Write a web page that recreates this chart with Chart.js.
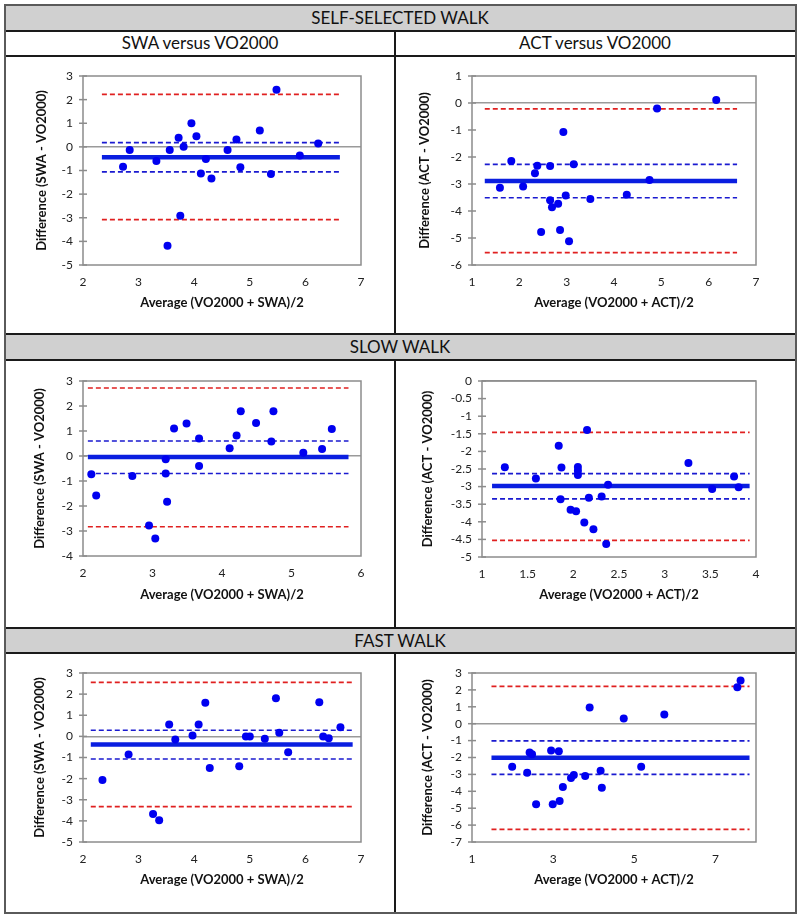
<!DOCTYPE html>
<html>
<head>
<meta charset="utf-8">
<script src="https://cdn.jsdelivr.net/npm/chart.js@4.4.0/dist/chart.umd.min.js"></script>
<style>
  body { margin: 0; background: #fff; }
  #page { position: relative; width: 800px; height: 916px; font-family: Lato, "Open Sans", sans-serif; color: #111; }
  .abs { position: absolute; }
  .band { background: #d0d0d0; }
  .hl { background: #1a1a1a; height: 1.5px; }
  .vl { background: #1a1a1a; width: 1.5px; }
  .txt { text-align: center; font-size: 17px; }
  canvas { position: absolute; }
</style>
</head>
<body>
<div id="page">
  <!-- section bands -->
  <div class="abs band" style="left:5px;top:5px;width:790px;height:25px"></div>
  <div class="abs band" style="left:5px;top:334px;width:790px;height:25px"></div>
  <div class="abs band" style="left:5px;top:628px;width:790px;height:25px"></div>

  <div class="abs txt" style="left:5px;top:5px;width:790px;line-height:25px">SELF-SELECTED WALK</div>
  <div class="abs txt" style="left:5px;top:30px;width:390px;line-height:25px">SWA versus VO2000</div>
  <div class="abs txt" style="left:395px;top:30px;width:400px;line-height:25px">ACT versus VO2000</div>
  <div class="abs txt" style="left:5px;top:334px;width:790px;line-height:25px">SLOW WALK</div>
  <div class="abs txt" style="left:5px;top:628px;width:790px;line-height:25px">FAST WALK</div>

  <!-- table rules -->
  <div class="abs hl" style="left:5px;top:30px;width:790px"></div>
  <div class="abs hl" style="left:5px;top:55px;width:790px"></div>
  <div class="abs hl" style="left:5px;top:333px;width:790px"></div>
  <div class="abs hl" style="left:5px;top:359px;width:790px"></div>
  <div class="abs hl" style="left:5px;top:627px;width:790px"></div>
  <div class="abs hl" style="left:5px;top:652px;width:790px"></div>
  <div class="abs vl" style="left:394px;top:30px;height:304px"></div>
  <div class="abs vl" style="left:394px;top:359px;height:269px"></div>
  <div class="abs vl" style="left:394px;top:652px;height:260px"></div>
  <div class="abs" style="left:4px;top:4px;width:789px;height:906px;border:2px solid #5a5a5a"></div>

  <canvas id="c1" width="388" height="276" style="left:6px;top:56px"></canvas>
  <canvas id="c2" width="398" height="276" style="left:396px;top:56px"></canvas>
  <canvas id="c3" width="388" height="265" style="left:6px;top:361px"></canvas>
  <canvas id="c4" width="398" height="265" style="left:396px;top:361px"></canvas>
  <canvas id="c5" width="388" height="257" style="left:6px;top:654px"></canvas>
  <canvas id="c6" width="398" height="257" style="left:396px;top:654px"></canvas>
</div>

<script>
// ---- data ----
// self-selected walk, SWA
const swaSelfX = [2.72, 2.84, 3.32, 3.52, 3.56, 3.72, 3.75, 3.81, 3.95, 4.04, 4.12, 4.21, 4.31, 4.60, 4.76, 4.83, 5.18, 5.38, 5.48, 5.90, 6.23];
const swaSelfY = [-0.84, -0.13, -0.60, -4.18, -0.13, 0.39, -2.92, 0.01, 1.00, 0.45, -1.13, -0.51, -1.34, -0.13, 0.31, -0.86, 0.69, -1.15, 2.42, -0.37, 0.14];
const swaSelfBias = -0.44, swaSelfCI = [0.18, -1.06], swaSelfLoA = [2.22, -3.08], swaSelfSpan = [2.34, 6.62];
// self-selected walk, ACT
const actSelfX = [1.59, 1.83, 2.08, 2.33, 2.38, 2.46, 2.65, 2.65, 2.69, 2.82, 2.86, 2.93, 2.98, 3.05, 3.15, 3.50, 4.27, 4.75, 4.91, 6.16];
const actSelfY = [-3.14, -2.15, -3.09, -2.60, -2.32, -4.78, -2.33, -3.60, -3.86, -3.73, -4.70, -1.07, -3.43, -5.12, -2.27, -3.56, -3.40, -2.85, -0.20, 0.11];
const actSelfBias = -2.89, actSelfCI = [-2.27, -3.51], actSelfLoA = [-0.22, -5.54], actSelfSpan = [1.27, 6.60];
// slow walk, SWA
const swaSlowX = [2.12, 2.19, 2.71, 2.95, 3.04, 3.19, 3.19, 3.21, 3.31, 3.49, 3.67, 3.67, 4.11, 4.21, 4.27, 4.49, 4.71, 4.74, 5.17, 5.44, 5.58];
const swaSlowY = [-0.73, -1.58, -0.80, -2.78, -3.30, -0.13, -0.70, -1.83, 1.10, 1.30, 0.70, -0.40, 0.31, 0.82, 1.79, 1.32, 0.58, 1.79, 0.13, 0.28, 1.08];
const swaSlowBias = -0.04, swaSlowCI = [0.60, -0.70], swaSlowLoA = [2.72, -2.83], swaSlowSpan = [2.07, 5.82];
// slow walk, ACT
const actSlowX = [1.25, 1.59, 1.84, 1.86, 1.87, 1.97, 2.03, 2.05, 2.05, 2.05, 2.12, 2.15, 2.17, 2.22, 2.31, 2.36, 2.38, 3.26, 3.52, 3.76, 3.81];
const actSlowY = [-2.45, -2.77, -1.84, -3.36, -2.46, -3.66, -3.70, -2.44, -2.55, -2.67, -4.02, -1.39, -3.32, -4.21, -3.28, -4.63, -2.95, -2.33, -3.07, -2.71, -3.02];
const actSlowBias = -2.98, actSlowCI = [-2.63, -3.35], actSlowLoA = [-1.46, -4.53], actSlowSpan = [1.11, 3.93];
// fast walk, SWA
const swaFastX = [2.35, 2.82, 3.26, 3.37, 3.55, 3.66, 3.97, 4.08, 4.20, 4.28, 4.81, 4.93, 5.00, 5.27, 5.47, 5.53, 5.69, 6.25, 6.32, 6.42, 6.63];
const swaFastY = [-2.06, -0.86, -3.67, -3.97, 0.56, -0.15, 0.04, 0.56, 1.59, -1.50, -1.42, -0.01, -0.01, -0.11, 1.81, 0.17, -0.75, 1.62, -0.01, -0.09, 0.43];
const swaFastBias = -0.38, swaFastCI = [0.29, -1.07], swaFastLoA = [2.56, -3.33], swaFastSpan = [2.14, 6.85];
// fast walk, ACT
const actFastX = [1.99, 2.36, 2.42, 2.48, 2.58, 2.95, 2.99, 3.14, 3.16, 3.24, 3.44, 3.51, 3.79, 3.90, 4.17, 4.20, 4.74, 5.17, 5.74, 7.54, 7.62];
const actFastY = [-2.54, -2.90, -1.71, -1.81, -4.76, -1.59, -4.76, -1.63, -4.58, -3.75, -3.22, -3.04, -3.10, 0.96, -2.78, -3.79, 0.31, -2.54, 0.55, 2.15, 2.56];
const actFastBias = -2.01, actFastCI = [-1.02, -3.00], actFastLoA = [2.21, -6.25], actFastSpan = [1.48, 7.84];

// axis ticks
const xTicksSwaSelf = [2, 3, 4, 5, 6, 7];
const yTicksSwaSelf = [-5, -4, -3, -2, -1, 0, 1, 2, 3];
const xTicksActSelf = [1, 2, 3, 4, 5, 6, 7];
const yTicksActSelf = [-6, -5, -4, -3, -2, -1, 0, 1];
const xTicksSwaSlow = [2, 3, 4, 5, 6];
const yTicksSwaSlow = [-4, -3, -2, -1, 0, 1, 2, 3];
const xTicksActSlow = [1, 1.5, 2, 2.5, 3, 3.5, 4];
const yTicksActSlow = [-5, -4.5, -4, -3.5, -3, -2.5, -2, -1.5, -1, -0.5, 0];
const xTicksSwaFast = [2, 3, 4, 5, 6, 7];
const yTicksSwaFast = [-5, -4, -3, -2, -1, 0, 1, 2, 3];
const xTicksActFast = [1, 3, 5, 7];
const xRangeActFast = [1, 8];
const yTicksActFast = [-7, -6, -5, -4, -3, -2, -1, 0, 1, 2, 3];

const swaXTitle = "Average (VO2000 + SWA)/2";
const swaYTitle = "Difference (SWA - VO2000)";
const actXTitle = "Average (VO2000 + ACT)/2";
const actYTitle = "Difference (ACT - VO2000)";

// plot frame plus crossing tick marks on the y axis
const framePlugin = {
    id: "frame",
    beforeDatasetsDraw(chart) {
        const ctx = chart.ctx;
        const a = chart.chartArea;
        const y = chart.scales.y;
        ctx.save();
        ctx.strokeStyle = "#8c8c8c";
        ctx.lineWidth = 1.5;
        ctx.strokeRect(a.left, a.top, a.right - a.left, a.bottom - a.top);
        y.ticks.forEach(t => {
            const py = y.getPixelForValue(t.value);
            ctx.beginPath();
            ctx.moveTo(a.left - 4, py);
            ctx.lineTo(a.left + 4, py);
            ctx.stroke();
        });
        ctx.restore();
    }
};

function hLine(value, span, color, width, dash) {
    return {
        data: [{ x: span[0], y: value }, { x: span[1], y: value }],
        showLine: true,
        borderColor: color,
        borderWidth: width,
        borderDash: dash,
        pointRadius: 0
    };
}

function drawPanel(id, p) {
    const pts = p.xs.map((x, i) => ({ x: x, y: p.ys[i] }));
    new Chart(document.getElementById(id), {
        type: "scatter",
        data: {
            datasets: [
                { data: pts, backgroundColor: "#0000f0", borderColor: "#0000f0", pointRadius: 4, pointBorderWidth: 0 },
                hLine(p.bias, p.span, "#0a1ee0", 4.5, []),
                hLine(p.ci[0], p.span, "#1a1ad0", 1.7, [5, 3]),
                hLine(p.ci[1], p.span, "#1a1ad0", 1.7, [5, 3]),
                hLine(p.loa[0], p.span, "#e02020", 1.7, [5, 3]),
                hLine(p.loa[1], p.span, "#e02020", 1.7, [5, 3])
            ]
        },
        options: {
            responsive: false,
            animation: false,
            layout: { padding: { left: 0, top: p.top, right: p.right, bottom: 0 } },
            plugins: { legend: { display: false }, tooltip: { enabled: false } },
            scales: {
                x: {
                    type: "linear",
                    min: p.xRange[0],
                    max: p.xRange[1],
                    afterBuildTicks: s => { s.ticks = p.xTicks.map(v => ({ value: v })); },
                    afterFit: s => { s.height = p.xAxisH; },
                    ticks: { padding: 10, autoSkip: false, maxRotation: 0, color: "#222", font: { size: 12 }, callback: v => String(v) },
                    grid: { display: false, drawTicks: false },
                    border: { display: false },
                    title: { display: true, text: p.xTitle, color: "#111", font: { size: 13, weight: "bold" }, padding: { top: p.xTitlePad, bottom: p.xTitlePad } }
                },
                y: {
                    type: "linear",
                    min: p.yTicks[0],
                    max: p.yTicks[p.yTicks.length - 1],
                    afterBuildTicks: s => { s.ticks = p.yTicks.map(v => ({ value: v })); },
                    afterFit: s => { s.width = p.yAxisW; },
                    ticks: { padding: 10, autoSkip: false, color: "#222", font: { size: 12 }, callback: v => String(v) },
                    grid: {
                        drawTicks: false,
                        lineWidth: 1.5,
                        color: c => (c.tick && c.tick.value === 0 ? "#9a9a9a" : "rgba(0,0,0,0)")
                    },
                    border: { display: false },
                    title: { display: true, text: p.yTitle, color: "#111", font: { size: 13, weight: "bold" }, padding: { top: p.yTitlePad, bottom: 0 } }
                }
            }
        },
        plugins: [framePlugin]
    });
}

Chart.defaults.font.family = "Lato, 'Open Sans', sans-serif";

drawPanel("c1", {
    xs: swaSelfX, ys: swaSelfY, bias: swaSelfBias, ci: swaSelfCI, loa: swaSelfLoA, span: swaSelfSpan,
    xTicks: xTicksSwaSelf, xRange: [2, 7], yTicks: yTicksSwaSelf, xTitle: swaXTitle, yTitle: swaYTitle,
    top: 20, right: 33, xAxisH: 67, yAxisW: 77, xTitlePad: 21, yTitlePad: 28
});
drawPanel("c2", {
    xs: actSelfX, ys: actSelfY, bias: actSelfBias, ci: actSelfCI, loa: actSelfLoA, span: actSelfSpan,
    xTicks: xTicksActSelf, xRange: [1, 7], yTicks: yTicksActSelf, xTitle: actXTitle, yTitle: actYTitle,
    top: 20, right: 38, xAxisH: 67, yAxisW: 76, xTitlePad: 21, yTitlePad: 21
});
drawPanel("c3", {
    xs: swaSlowX, ys: swaSlowY, bias: swaSlowBias, ci: swaSlowCI, loa: swaSlowLoA, span: swaSlowSpan,
    xTicks: xTicksSwaSlow, xRange: [2, 6], yTicks: yTicksSwaSlow, xTitle: swaXTitle, yTitle: swaYTitle,
    top: 20, right: 33, xAxisH: 70, yAxisW: 77, xTitlePad: 23, yTitlePad: 26
});
drawPanel("c4", {
    xs: actSlowX, ys: actSlowY, bias: actSlowBias, ci: actSlowCI, loa: actSlowLoA, span: actSlowSpan,
    xTicks: xTicksActSlow, xRange: [1, 4], yTicks: yTicksActSlow, xTitle: actXTitle, yTitle: actYTitle,
    top: 20, right: 38, xAxisH: 69, yAxisW: 86, xTitlePad: 23, yTitlePad: 24
});
drawPanel("c5", {
    xs: swaFastX, ys: swaFastY, bias: swaFastBias, ci: swaFastCI, loa: swaFastLoA, span: swaFastSpan,
    xTicks: xTicksSwaFast, xRange: [2, 7], yTicks: yTicksSwaFast, xTitle: swaXTitle, yTitle: swaYTitle,
    top: 19, right: 33, xAxisH: 69, yAxisW: 77, xTitlePad: 23, yTitlePad: 26
});
drawPanel("c6", {
    xs: actFastX, ys: actFastY, bias: actFastBias, ci: actFastCI, loa: actFastLoA, span: actFastSpan,
    xTicks: xTicksActFast, xRange: xRangeActFast, yTicks: yTicksActFast, xTitle: actXTitle, yTitle: actYTitle,
    top: 19, right: 38, xAxisH: 69, yAxisW: 76, xTitlePad: 23, yTitlePad: 24
});
</script>
</body>
</html>
